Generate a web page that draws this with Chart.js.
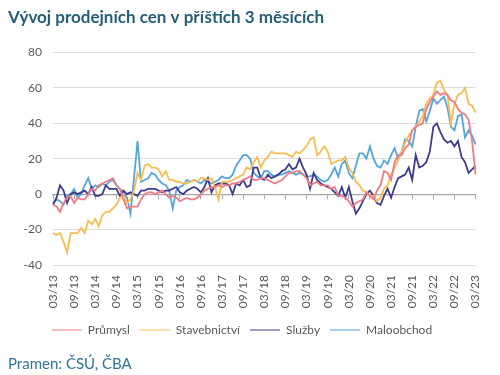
<!DOCTYPE html>
<html>
<head>
<meta charset="utf-8">
<script src="https://cdn.jsdelivr.net/npm/chart.js@4.4.1/dist/chart.umd.min.js"></script>
<style>
  html, body { margin: 0; padding: 0; background: #fff; }
</style>
</head>
<body>
<canvas id="chart" width="500" height="375"></canvas>
<script>
// months 03/13 .. 03/23
const months = [];
for (let y = 13; y <= 23; y++) {
  for (let m = 1; m <= 12; m++) {
    if ((y === 13 && m < 3) || (y === 23 && m > 3)) continue;
    months.push(String(m).padStart(2, '0') + '/' + y);
  }
}

// labels actually shown under the axis
const tickLabels = ['03/13', '09/13', '03/14', '09/14', '03/15', '09/15', '03/16', '09/16',
  '03/17', '09/17', '03/18', '09/18', '03/19', '09/19', '03/20', '09/20', '03/21', '09/21',
  '03/22', '09/22', '03/23'];

const prumysl = [
  -6, -7, -10, -5, -2, -1, -5, -2, -3, -3, 0, 3,
  2, 5, 6, 7, 8, 9, 5, 3, -3, -8, -7, -7,
  -7, -3, 0, 1, 1, 0, 1, 2, 0, -2, -1, -2,
  -4, -3, -2, -3, -3, -2, 0, 2, 3, 4, 4, 5,
  4, 5, 5, 6, 6, 7, 8, 9, 10, 8, 8, 9,
  9, 8, 7, 6, 7, 8, 10, 12, 12, 13, 13, 11,
  9, 5, 6, 7, 5, 5, 5, 3, 4, -1, -1, -2,
  -4, -7, -5, -4, -3, 1, -1, -3, 2, 5, 13, 12,
  8, 18, 22, 22, 26, 28, 36, 38, 39, 40, 48, 52,
  55, 58, 56, 57, 56, 53, 52, 48, 46, 45, 42, 30, 11
];

const stavebnictvi = [
  -22, -23, -22, -27, -33, -22, -22, -22, -19, -22, -15, -17,
  -14, -18, -12, -10, -10, -8, -6, -2, 0, -5, -3, 2,
  12, 8, 16, 17, 15, 15, 14, 10, 13, 8, 8, 7,
  7, 6, 6, 7, 8, 7, 9, 9, 8, 9, 4, -3,
  7, 7, 7, 8, 9, 10, 11, 15, 14, 18, 21, 15,
  19, 21, 24, 23, 23, 23, 23, 22, 21, 24, 23, 25,
  27, 31, 32, 22, 24, 27, 24, 17, 18, 19, 19, 21,
  15, 12, 7, 5, 2, 1, -1, -1, -4, -2, 3, 5,
  11, 15, 19, 24, 29, 33, 36, 38, 41, 44, 51, 54,
  56, 63, 64, 59, 56, 40, 51, 56, 57, 60, 51, 50, 46
];

const sluzby = [
  -6, -2, 5, 2, -5, 0, 1, 0, 1, 2, 0, 4,
  -1, -1, 0, 5, 3, 3, 3, -1, 2, 0, 1, 0,
  -1, 2, 2, 3, 3, 3, 2, 1, 2, 2, 3, 4,
  1, 0, 2, 3, 4, 3, 1, 4, 9, 1, 5, 6,
  6, 6, 5, 0, 6, 5, 8, 4, 5, 15, 15, 9,
  8, 11, 9, 10, 11, 13, 14, 17, 14, 15, 20, 15,
  11, 3, 12, 8, 6, 5, 4, 3, 1, -1, 4, -2,
  4, -4, -11, -8, -4, 0, 2, -1, -5, -6, -1, 3,
  -2, 4, 9, 10, 11, 15, 8, 22, 15, 16, 18, 24,
  38, 40, 35, 31, 29, 30, 27, 30, 21, 18, 12, 14, 16
];

const maloobchod = [
  -5, -3, -4, -6, -1, 0, 3, -2, 0, 5, 9, 3,
  5, 4, 6, 5, 7, 8, 5, 3, 1, -2, -11, 9,
  30, 7, 8, 9, 12, 11, 8, 6, 5, 2, -8, 2,
  4, 5, 8, 7, 8, 7, 6, 8, 7, 6, 7, 8,
  10, 9, 9, 11, 16, 19, 22, 22, 20, 12, 10, 9,
  13, 13, 11, 10, 11, 11, 12, 13, 12, 11, 12, 11,
  10, 10, 11, 10, 8, 7, 8, 11, 15, 10, 17, 19,
  12, 9, 16, 23, 23, 20, 27, 20, 16, 15, 19, 17,
  22, 26, 20, 24, 31, 30, 27, 38, 47, 48, 41, 47,
  54, 51, 53, 55, 49, 38, 36, 44, 45, 32, 36, 33, 28
];

const font = 'Lato, "Open Sans", sans-serif';
const grey = '#595959';

const isShown = i => tickLabels.includes(months[i]);

const ctx = document.getElementById('chart').getContext('2d');
new Chart(ctx, {
  type: 'line',
  data: {
    labels: months,
    datasets: [
      { label: 'Průmysl', data: prumysl, borderColor: '#f27a85', backgroundColor: '#f27a85' },
      { label: 'Stavebnictví', data: stavebnictvi, borderColor: '#fbbb52', backgroundColor: '#fbbb52' },
      { label: 'Služby', data: sluzby, borderColor: '#3d3b8f', backgroundColor: '#3d3b8f' },
      { label: 'Maloobchod', data: maloobchod, borderColor: '#53a6db', backgroundColor: '#53a6db' }
    ]
  },
  options: {
    responsive: false,
    animation: false,
    layout: { padding: { left: 8, right: 24, top: 0, bottom: 0 } },
    elements: {
      point: { radius: 0 },
      line: { borderWidth: 1.8, tension: 0 }
    },
    scales: {
      x: {
        grid: { display: false, drawTicks: false },
        border: { display: false },
        afterFit: a => { a.height = 49; },
        ticks: {
          autoSkip: false, minRotation: 90, maxRotation: 90, padding: 10,
          color: grey, font: { family: font, size: 12 },
          callback: (v, i) => isShown(i) ? months[i] : ''
        }
      },
      xZero: {
        type: 'category',
        position: { y: 0 },
        grid: {
          drawOnChartArea: false, drawTicks: true, tickLength: 4,
          color: c => isShown(c.index) ? '#a6a6a6' : 'rgba(0,0,0,0)'
        },
        border: { display: true, color: '#a6a6a6', width: 1.2 },
        ticks: { display: false, autoSkip: false }
      },
      y: {
        min: -40, max: 80,
        afterFit: a => { a.width = 45; },
        ticks: { stepSize: 20, padding: 11, color: grey, font: { family: font, size: 12 } },
        grid: { color: '#dcdcdc', drawTicks: false },
        border: { display: false }
      }
    },
    plugins: {
      tooltip: { enabled: false },
      title: {
        display: true,
        text: 'Vývoj prodejních cen v příštích 3 měsících',
        align: 'start',
        color: '#245e78',
        font: { family: font, size: 17, weight: 'bold' },
        padding: { top: 7, bottom: 25 }
      },
      legend: {
        position: 'bottom',
        labels: {
          usePointStyle: true, pointStyle: 'line', pointStyleWidth: 30,
          color: grey, font: { family: font, size: 12 }, padding: 10
        }
      },
      subtitle: {
        display: true,
        position: 'bottom',
        align: 'start',
        text: 'Pramen: ČSÚ, ČBA',
        color: '#2f7497',
        font: { family: font, size: 15 },
        padding: { top: 9, bottom: 2 }
      }
    }
  }
});
</script>
</body>
</html>
